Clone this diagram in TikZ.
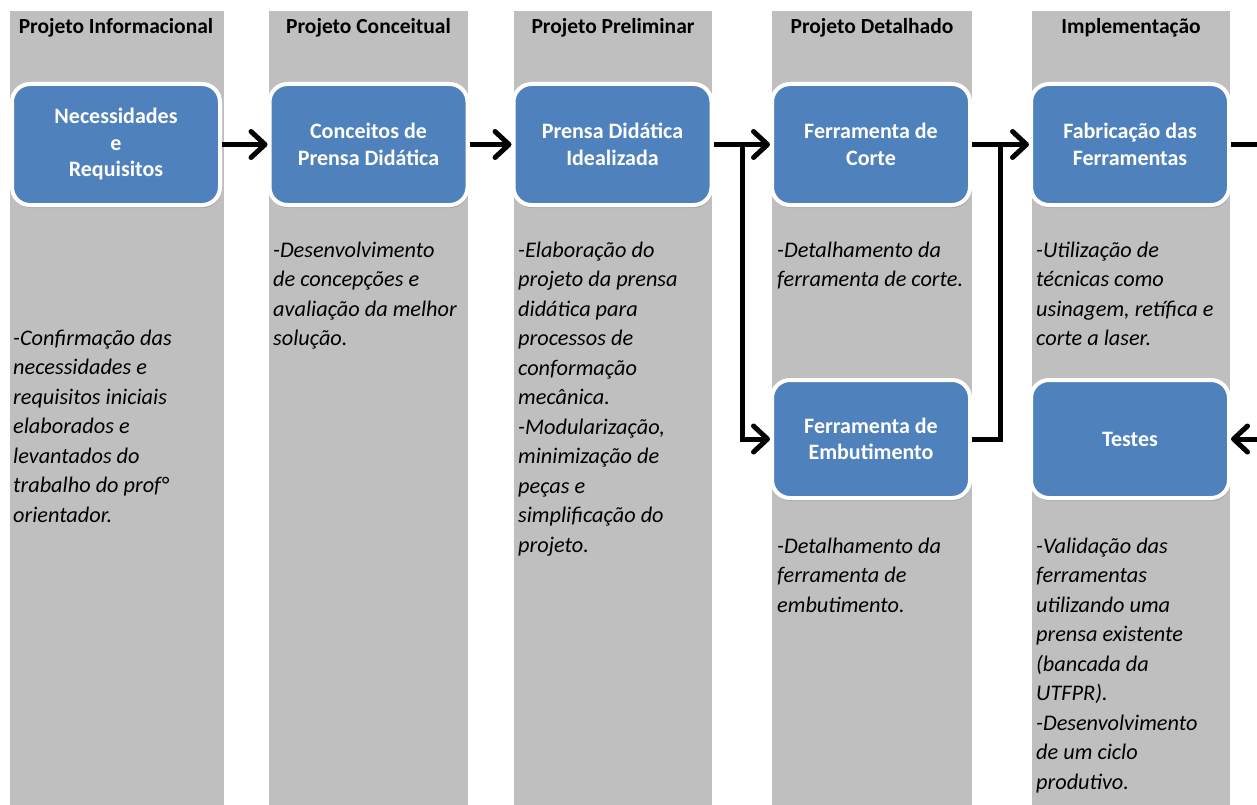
\documentclass[tikz,border=0pt]{standalone}
\usepackage{fontspec}
\setmainfont{Carlito}
\usetikzlibrary{arrows.meta,shadows}

\definecolor{cinza}{HTML}{BFBFBF}
\definecolor{azul}{HTML}{4F81BD}

\tikzset{
  fase/.style={anchor=base, font=\bfseries\fontsize{21.5}{24}\selectfont},
  caixa/.style={draw=white, line width=4pt, fill=azul, rounded corners=18pt,
    minimum width=198pt, minimum height=121pt, align=center, text=white,
    font=\bfseries\fontsize{22}{26.5}\selectfont,
    drop shadow={opacity=0.35, shadow xshift=1pt, shadow yshift=-3pt}},
  texto/.style={anchor=north west, inner sep=0pt, align=left,
    font=\itshape\fontsize{22.3}{29.5}\selectfont},
  linha/.style={line width=5pt},
  seta/.style={linha, -{Straight Barb[length=14pt, width=26pt, round]}}
}

\begin{document}
\begin{tikzpicture}[x=1pt, y=-1pt]
\useasboundingbox (0,0) rectangle (1257,805);

% colunas das fases
\foreach \a/\b in {10/224, 269/468, 514/712, 772/972, 1032/1230}
  \fill[cinza] (\a,11) rectangle (\b,805);

\node[fase] (f1) at (116,34) {Projeto Informacional};
\node[fase] (f2) at (368.5,34) {Projeto Conceitual};
\node[fase] (f3) at (613,34) {Projeto Preliminar};
\node[fase] (f4) at (872,34) {Projeto Detalhado};
\node[fase] (f5) at (1131,34) {Implementação};

% etapas
\node[caixa, minimum width=208pt] (nec) at (116,144.5) {Necessidades\\e\\Requisitos};
\node[caixa] (conc) at (368.5,144.5) {Conceitos de\\Prensa Didática};
\node[caixa] (idea) at (612.5,144.5) {Prensa Didática\\Idealizada};
\node[caixa] (corte) at (871,144.5) {Ferramenta de\\Corte};
\node[caixa] (fabr) at (1130,144.5) {Fabricação das\\Ferramentas};
\node[caixa, minimum height=118pt] (embut) at (871,439) {Ferramenta de\\Embutimento};
\node[caixa, minimum height=118pt] (test) at (1130,439) {Testes};

% ligacoes
\coordinate (ramo) at (742,144.5);
\coordinate (junta) at (1000,144.5);
\coordinate (saida) at (1257,144.5);
\coordinate (volta) at (1257,439);

\draw[seta] (nec) -- (conc);
\draw[seta] (conc) -- (idea);
\draw[seta] (idea) -- (corte);
\draw[seta] (ramo) |- (embut);
\draw[linha] (embut) -| (junta);
\draw[seta] (corte) -- (fabr);
\draw[linha] (fabr) -- (saida);
\draw[seta] (volta) -- (test);

% descricoes
\node[texto] (d1) at (13,324.35) {\strut-Confirmação das\\necessidades e\\requisitos iniciais\\elaborados e\\levantados do\\trabalho do prof°\\orientador.};
\node[texto] (d2) at (273,236.35) {\strut-Desenvolvimento\\de concepções e\\avaliação da melhor\\solução.};
\node[texto] (d3) at (518,236.35) {\strut-Elaboração do\\projeto da prensa\\didática para\\processos de\\conformação\\mecânica.\\-Modularização,\\minimização de\\peças e\\simplificação do\\projeto.};
\node[texto] (d4) at (777,236.35) {\strut-Detalhamento da\\ferramenta de corte.};
\node[texto] (d5) at (777,532.35) {\strut-Detalhamento da\\ferramenta de\\embutimento.};
\node[texto] (d6) at (1036,236.35) {\strut-Utilização de\\técnicas como\\usinagem, retífica e\\corte a laser.};
\node[texto] (d7) at (1036,532.35) {\strut-Validação das\\ferramentas\\utilizando uma\\prensa existente\\(bancada da\\UTFPR).\\-Desenvolvimento\\de um ciclo\\produtivo.};
\end{tikzpicture}
\end{document}
